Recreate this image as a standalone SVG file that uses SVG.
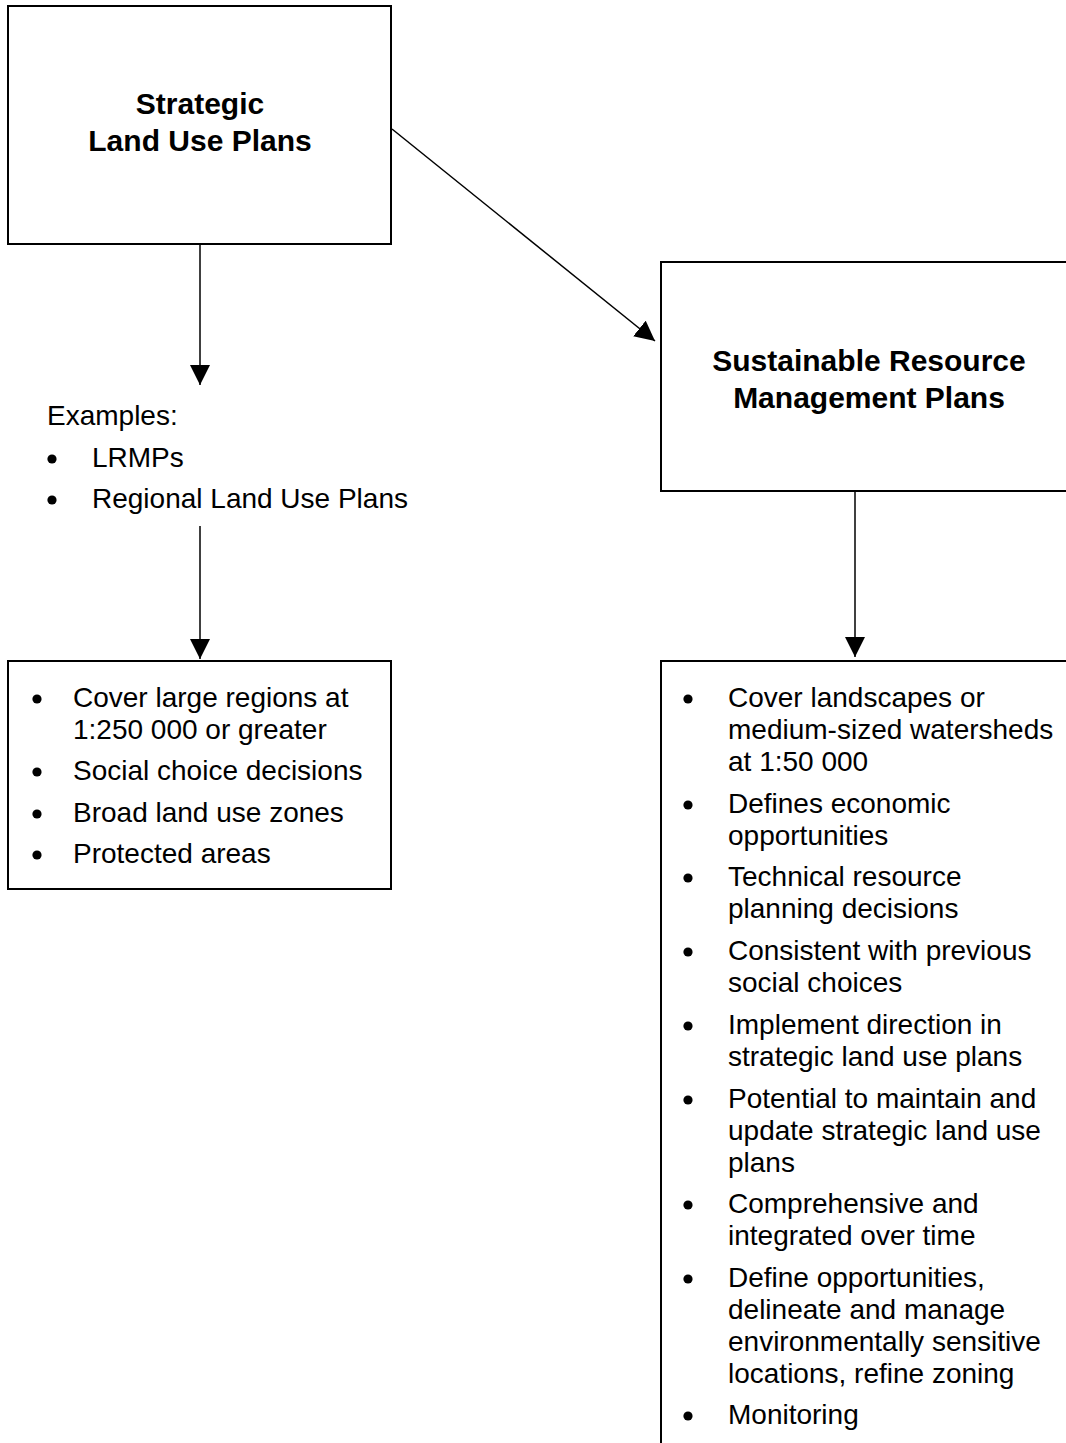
<svg xmlns="http://www.w3.org/2000/svg" width="1066" height="1443" viewBox="0 0 1066 1443">
  <style>
    .box { fill: #fff; stroke: #000; stroke-width: 2; }
    .title { font-family: "Liberation Sans", Arial, sans-serif; font-weight: bold; font-size: 30px; text-anchor: middle; fill: #000; }
    .body { font-family: "Liberation Sans", Arial, sans-serif; font-size: 28px; fill: #000; }
    .link { stroke: #000; stroke-width: 1.5; fill: none; }
    .dot { fill: #000; }
  </style>
  <defs>
    <marker id="head" markerUnits="userSpaceOnUse" markerWidth="22" markerHeight="22" refX="20" refY="10" orient="auto">
      <path d="M0,0 L20,10 L0,20 Z" fill="#000"/>
    </marker>
  </defs>
  <rect width="1066" height="1443" fill="#fff"/>

  <!-- connectors -->
  <g id="connectors">
    <line class="link" x1="200" y1="245" x2="200" y2="385" marker-end="url(#head)"/>
    <line class="link" x1="200" y1="526" x2="200" y2="659" marker-end="url(#head)"/>
    <line class="link" x1="392" y1="129" x2="655" y2="341" marker-end="url(#head)"/>
    <line class="link" x1="855" y1="492" x2="855" y2="657" marker-end="url(#head)"/>
  </g>

  <!-- strategic land use plans -->
  <g id="strategic">
    <rect class="box" x="8" y="6" width="383" height="238"/>
    <text class="title" x="200" y="114">Strategic</text>
    <text class="title" x="200" y="151">Land Use Plans</text>
  </g>

  <!-- examples list -->
  <g id="examples">
    <text class="body" x="47" y="425">Examples:</text>
    <circle class="dot" cx="52" cy="459" r="4.6"/>
    <text class="body" x="92" y="467">LRMPs</text>
    <circle class="dot" cx="52" cy="500" r="4.6"/>
    <text class="body" x="92" y="508">Regional Land Use Plans</text>
  </g>

  <!-- strategic plan characteristics -->
  <g id="strategic-features">
    <rect class="box" x="8" y="661" width="383" height="228"/>
    <circle class="dot" cx="37" cy="699" r="4.6"/>
    <text class="body" x="73" y="707">Cover large regions at</text>
    <text class="body" x="73" y="739">1:250 000 or greater</text>
    <circle class="dot" cx="37" cy="772" r="4.6"/>
    <text class="body" x="73" y="780">Social choice decisions</text>
    <circle class="dot" cx="37" cy="814" r="4.6"/>
    <text class="body" x="73" y="822">Broad land use zones</text>
    <circle class="dot" cx="37" cy="855" r="4.6"/>
    <text class="body" x="73" y="863">Protected areas</text>
  </g>

  <!-- sustainable resource management plans -->
  <g id="srmp">
    <rect class="box" x="661" y="262" width="420" height="229"/>
    <text class="title" x="869" y="371">Sustainable Resource</text>
    <text class="title" x="869" y="408">Management Plans</text>
  </g>

  <!-- srmp characteristics -->
  <g id="srmp-features">
    <rect class="box" x="661" y="661" width="420" height="800"/>
    <circle class="dot" cx="688" cy="699" r="4.6"/>
    <text class="body" x="728" y="707">Cover landscapes or</text>
    <text class="body" x="728" y="739">medium-sized watersheds</text>
    <text class="body" x="728" y="771">at 1:50 000</text>
    <circle class="dot" cx="688" cy="805" r="4.6"/>
    <text class="body" x="728" y="813">Defines economic</text>
    <text class="body" x="728" y="845">opportunities</text>
    <circle class="dot" cx="688" cy="878" r="4.6"/>
    <text class="body" x="728" y="886">Technical resource</text>
    <text class="body" x="728" y="918">planning decisions</text>
    <circle class="dot" cx="688" cy="952" r="4.6"/>
    <text class="body" x="728" y="960">Consistent with previous</text>
    <text class="body" x="728" y="992">social choices</text>
    <circle class="dot" cx="688" cy="1026" r="4.6"/>
    <text class="body" x="728" y="1034">Implement direction in</text>
    <text class="body" x="728" y="1066">strategic land use plans</text>
    <circle class="dot" cx="688" cy="1100" r="4.6"/>
    <text class="body" x="728" y="1108">Potential to maintain and</text>
    <text class="body" x="728" y="1140">update strategic land use</text>
    <text class="body" x="728" y="1172">plans</text>
    <circle class="dot" cx="688" cy="1205" r="4.6"/>
    <text class="body" x="728" y="1213">Comprehensive and</text>
    <text class="body" x="728" y="1245">integrated over time</text>
    <circle class="dot" cx="688" cy="1279" r="4.6"/>
    <text class="body" x="728" y="1287">Define opportunities,</text>
    <text class="body" x="728" y="1319">delineate and manage</text>
    <text class="body" x="728" y="1351">environmentally sensitive</text>
    <text class="body" x="728" y="1383">locations, refine zoning</text>
    <circle class="dot" cx="688" cy="1416" r="4.6"/>
    <text class="body" x="728" y="1424">Monitoring</text>
  </g>
</svg>
